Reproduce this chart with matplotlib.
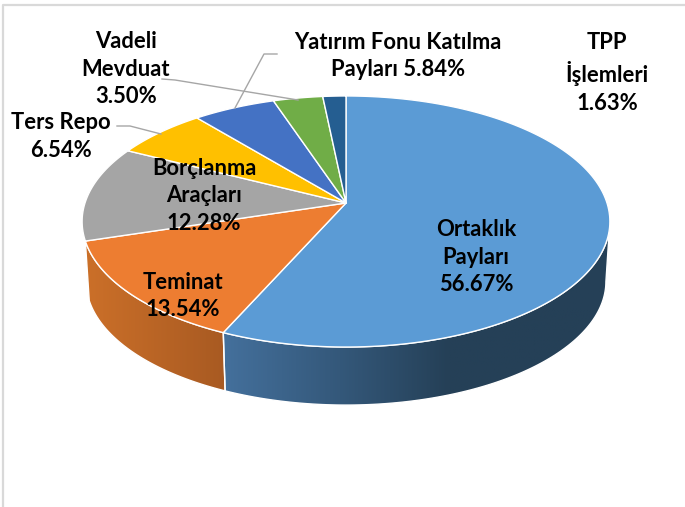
import numpy as np
import matplotlib
matplotlib.use("Agg")
import matplotlib.pyplot as plt
from matplotlib.colors import LinearSegmentedColormap
from matplotlib.patches import Polygon

labels = ["Ortaklık\nPayları\n56.67%", "Teminat\n13.54%", "Borçlanma\nAraçları\n12.28%",
          "Ters Repo\n6.54%", "Yatırım Fonu Katılma\nPayları 5.84%", "Vadeli\nMevduat\n3.50%",
          "TPP\nİşlemleri\n1.63%"]
values = [56.67, 13.54, 12.28, 6.54, 5.84, 3.50, 1.63]
colors = ["#5B9BD5", "#ED7D31", "#A5A5A5", "#FFC000", "#4472C4", "#70AD47", "#255E91"]
label_pos = [(476, 257), (183, 296), (204, 196), (61, 136.5), (398, 56), (126, 69), (607, 73)]

CX, CY, B, A, P = 346.0, 203.0, 261.0, 122.8, 0.1474


def top_pts(deg):
    t = np.radians(np.asarray(deg, dtype=float))
    w = 1 + P * np.cos(t)
    return CX + B * np.sin(t) / w, CY - A * np.cos(t) / w


def bottom_pts(deg):
    x, y = top_pts(deg)
    return CX + 0.985 * (x - CX), CY + 60.2 + 0.985 * (y - CY)


fig = plt.figure(figsize=(6.85, 5.07), dpi=100)
ax = fig.add_axes([0, 0, 1, 1])
ax.set_xlim(0, 685)
ax.set_ylim(507, 0)
ax.axis("off")

# chart frame
ax.plot([3.5, 3.5, 685], [507, 4.5, 4.5], color="#D9D9D9", lw=1.6, zorder=1)

edges = np.concatenate([[0], np.cumsum(values) / np.sum(values) * 360])


def side(a0, a1, stops, x0, x1):
    th = np.linspace(a0, a1, 120)
    tx, ty = top_pts(th)
    bx, by = bottom_pts(th)
    poly = np.column_stack([np.r_[tx, bx[::-1]], np.r_[ty, by[::-1]]])
    patch = Polygon(poly, closed=True, fc="none", ec="white", lw=1.0, zorder=3)
    ax.add_patch(patch)
    cmap = LinearSegmentedColormap.from_list("s", stops)
    im = ax.imshow(np.linspace(0, 1, 256)[None, :], cmap=cmap, vmin=0, vmax=1, aspect="auto",
                   extent=[x0, x1, 420, 200], zorder=2)
    im.set_clip_path(patch)


side(98.5, edges[1], [(0, "#44709C"), (0.3, "#34587A"), (0.58, "#254057"), (1, "#254057")], 223, 612)
side(edges[1], edges[2], ["#CC7029", "#A85A22"], 83, 226)

# top faces
for i in range(len(values)):
    th = np.linspace(edges[i], edges[i + 1], 150)
    x, y = top_pts(th)
    ax.add_patch(Polygon(np.column_stack([np.r_[CX, x], np.r_[CY, y]]), closed=True,
                         fc=colors[i], ec="white", lw=1.0, joinstyle="round", zorder=4))

# leader lines
LEADER = "#A6A6A6"
ax.plot([162, 175, 298], [79, 80, 100], color=LEADER, lw=1.0, zorder=5)
ax.plot([117, 130, 161], [126, 126, 134], color=LEADER, lw=1.0, zorder=5)
ax.plot([277, 264, 235], [54, 54, 108], color=LEADER, lw=1.0, zorder=5)

for s, (x, y) in zip(labels, label_pos):
    ax.text(x, y, s, ha="center", va="center", ma="center", family="Lato", weight="bold",
            fontsize=15.8, color="black", linespacing=1.4, zorder=6)

fig.savefig("out.png", dpi=100, facecolor="white")
